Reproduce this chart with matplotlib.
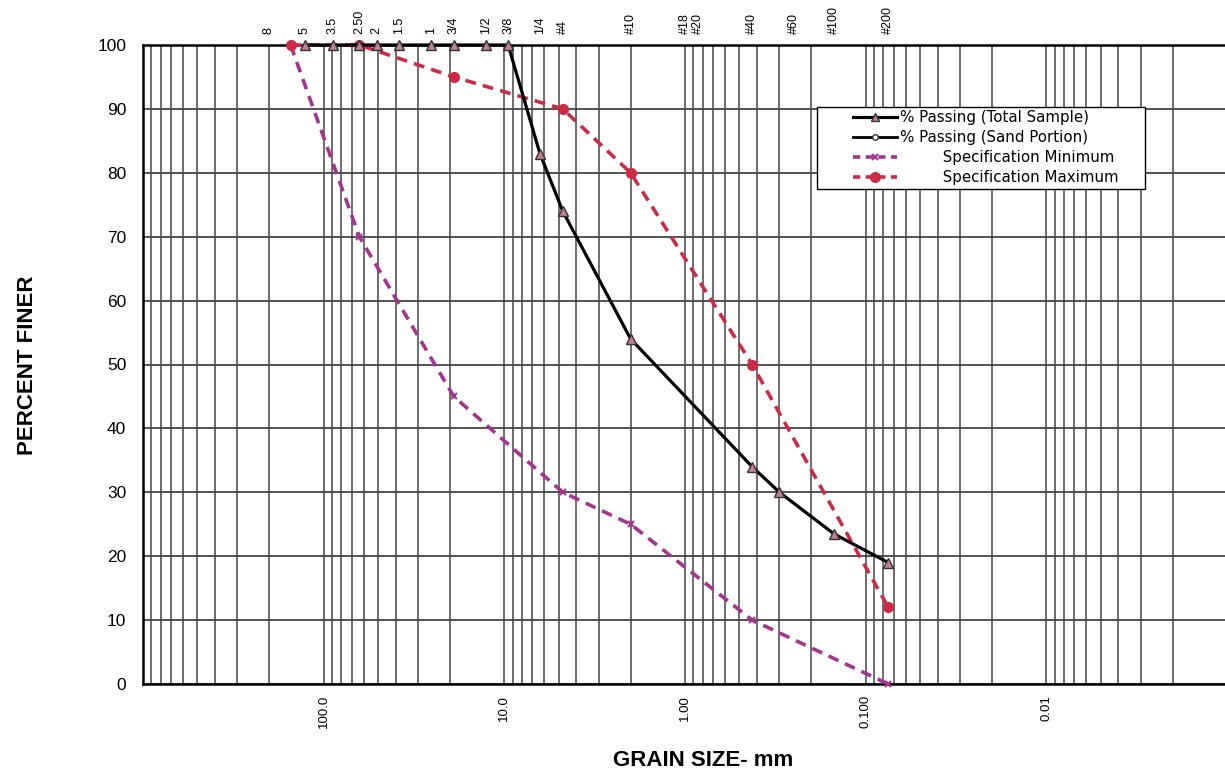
import matplotlib
matplotlib.use("Agg")
import matplotlib.pyplot as plt
from matplotlib.lines import Line2D
from matplotlib.patches import Rectangle
from matplotlib.ticker import LogLocator, NullFormatter, FixedLocator, FixedFormatter

# ---- data ----
sieve_labels = ['8', '5', '3.5', '2.50', '2', '1.5', '1', '3/4', '1/2', '3/8', '1/4',
                '#4', '#10', '#18', '#20', '#40', '#60', '#100', '#200']
sieve_mm = [203.2, 127.0, 88.9, 63.5, 50.8, 38.1, 25.4, 19.05, 12.7, 9.525, 6.35,
            4.75, 2.0, 1.0, 0.85, 0.425, 0.25, 0.15, 0.075]

total_size = [127.0, 88.9, 63.5, 50.8, 38.1, 25.4, 19.05, 12.7, 9.525, 6.35,
              4.75, 2.0, 0.425, 0.3, 0.15, 0.075]
total_pass = [100, 100, 100, 100, 100, 100, 100, 100, 100, 83,
              74, 54, 34, 30, 23.5, 19]

sand_size = []
sand_pass = []

spec_size = [152.4, 63.5, 19.05, 4.75, 2.0, 0.425, 0.075]
spec_min = [100, 70, 45, 30, 25, 10, 0]
spec_max = [100, 100, 95, 90, 80, 50, 12]

xtick_vals = [100, 10, 1, 0.1, 0.01]
xtick_labels = ['100.0', '10.0', '1.00', '0.100', '0.01']
ytick_vals = [0, 10, 20, 30, 40, 50, 60, 70, 80, 90, 100]

# ---- figure ----
W, H = 1225, 772
fig = plt.figure(figsize=(W / 100, H / 100), dpi=100)
plt.rcParams['font.family'] = ['Liberation Sans', 'DejaVu Sans']

left_px, right_px, top_px, bot_px = 143, 1227, 45, 684
ax = fig.add_axes([left_px / W, (H - bot_px) / H,
                   (right_px - left_px) / W, (bot_px - top_px) / H])
ax.set_xscale('log')
ax.set_xlim(1000, 0.001)
ax.set_ylim(0, 100)

ax.xaxis.set_major_locator(FixedLocator(xtick_vals))
ax.xaxis.set_major_formatter(FixedFormatter(xtick_labels))
ax.xaxis.set_minor_locator(LogLocator(base=10, subs=range(1, 10), numticks=100))
ax.xaxis.set_minor_formatter(NullFormatter())
ax.set_yticks(ytick_vals)
ax.tick_params(axis='x', which='both', length=0, pad=8, labelsize=9.5, labelrotation=90)
ax.tick_params(axis='y', which='both', length=0, pad=12, labelsize=12.5)

ax.grid(True, which='both', axis='x', color='#555555', lw=1.2)
ax.grid(True, which='major', axis='y', color='#444444', lw=1.3)
ax.set_axisbelow(True)
for s in ax.spines.values():
    s.set_linewidth(1.8)
    s.set_color('black')

# top sieve axis
ax2 = ax.twiny()
ax2.set_xscale('log')
ax2.set_xlim(ax.get_xlim())
ax2.xaxis.set_major_locator(FixedLocator(sieve_mm))
ax2.xaxis.set_major_formatter(FixedFormatter(sieve_labels))
ax2.xaxis.set_minor_locator(FixedLocator([]))
ax2.tick_params(axis='x', which='both', length=0, pad=8, labelsize=9, labelrotation=90)
for s in ax2.spines.values():
    s.set_visible(False)

red = '#CC2B45'
purple = '#A3348F'

ax.plot(spec_size, spec_min, color=purple, lw=2.6, dashes=(3, 2), marker='x',
        ms=5, mew=1.5, clip_on=False, zorder=3)
ax.plot(spec_size, spec_max, color=red, lw=2.6, dashes=(3, 2), marker='o',
        ms=7, mfc=red, mec=red, clip_on=False, zorder=3)
ax.plot(total_size, total_pass, color='black', lw=2.3, marker='^', ms=6.5,
        mfc='#C08090', mec='#333333', mew=1.0, clip_on=False, zorder=4)
ax.plot(sand_size, sand_pass, color='black', lw=2.0, marker='o', ms=4, mfc='white')

# legend
handles = [
    Line2D([], [], color='black', lw=2.3, marker='^', ms=6, mfc='#C08090', mec='#333333'),
    Line2D([], [], color='black', lw=2.0, marker='o', ms=4, mfc='white', mec='#333333'),
    Line2D([], [], color=purple, lw=2.6, dashes=(2, 1.5), marker='x', ms=5, mew=1.5),
    Line2D([], [], color=red, lw=2.6, dashes=(2, 1.5), marker='o', ms=7, mfc=red, mec=red),
]
labels = ['% Passing (Total Sample)', '% Passing (Sand Portion)',
          '         Specification Minimum', '         Specification Maximum']
fig.add_artist(Rectangle((817 / W, 1 - 189 / H), (1145 - 817) / W, (189 - 107) / H,
                         transform=fig.transFigure, facecolor='white',
                         edgecolor='black', lw=1.0, zorder=5))
leg = fig.legend(handles, labels, loc='upper left',
                 bbox_to_anchor=(853 / W, 1 - 110 / H), frameon=False,
                 borderpad=0, borderaxespad=0, handlelength=2.9, handletextpad=0.2,
                 labelspacing=0.33, prop={'family': 'DejaVu Sans', 'size': 10.8})
leg.set_zorder(6)

fig.text(28 / W, 1 - 365 / H, 'PERCENT FINER', rotation=90, ha='center', va='center',
         fontsize=16, fontweight='bold')
fig.text(703 / W, 1 - 760 / H, 'GRAIN SIZE- mm', ha='center', va='center',
         fontsize=16, fontweight='bold')

fig.savefig('out.png', dpi=100)
